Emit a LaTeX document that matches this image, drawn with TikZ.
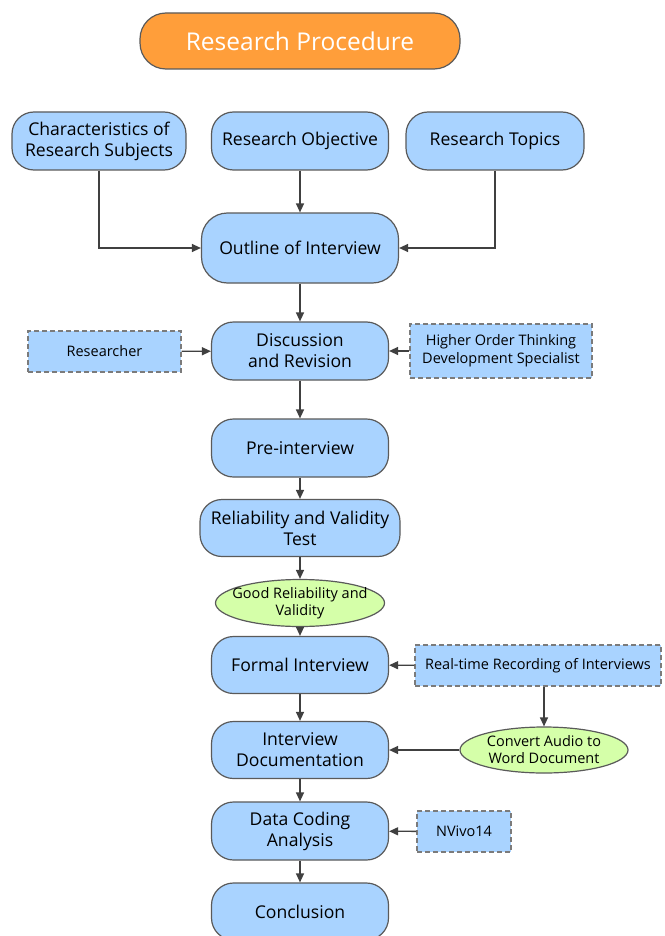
\documentclass[tikz,border=0pt]{standalone}
\usepackage{fontspec}
\setmainfont{Open Sans}
\usetikzlibrary{arrows.meta,shapes.geometric}
\definecolor{boxblue}{HTML}{A9D3FF}
\definecolor{boxgreen}{HTML}{D5FFA9}
\definecolor{boxorange}{HTML}{FF9E3A}
\definecolor{edgegray}{HTML}{5A5A5A}
\definecolor{linegray}{HTML}{404040}
\newcommand{\zw}[1]{\makebox[0pt][c]{#1}}
\tikzset{
  procbox/.style={draw=edgegray, line width=1.2pt, fill=boxblue, rounded corners=22pt,
    align=center, inner sep=0pt, font=\fontsize{17.6}{21}\selectfont, text=black},
  sidebox/.style={draw=edgegray!80, line width=1.4pt, dashed, dash pattern=on 5pt off 3pt, fill=boxblue,
    align=center, inner sep=0pt, font=\fontsize{14.5}{18}\selectfont},
  ovalbox/.style={ellipse, draw=edgegray, line width=1.2pt, fill=boxgreen,
    align=center, inner sep=0pt, font=\fontsize{14.5}{17}\selectfont},
  conn/.style={draw=linegray, line width=1.3pt, -{Triangle[length=9pt,width=8pt]}},
}
\begin{document}
\begin{tikzpicture}[x=1pt,y=-1pt]
\useasboundingbox[fill=white] (0,0) rectangle (664,936);
\node[draw=edgegray, line width=1.2pt, fill=boxorange, rounded corners=26pt, minimum width=320pt, minimum height=56pt,
  text=white, font=\fontsize{24.5}{28}\selectfont] (title) at (300,41) {Research Procedure};

\node[procbox, minimum width=174pt, minimum height=58pt] (chars) at (99,141) {Characteristics of\\Research Subjects};
\node[procbox, minimum width=177pt, minimum height=58pt] (obj) at (300,141) {Research Objective};
\node[procbox, minimum width=178pt, minimum height=58pt] (topics) at (495,141) {Research Topics};
\node[procbox, minimum width=197pt, minimum height=70pt, rounded corners=26pt] (outline) at (300,248) {Outline of Interview};
\node[procbox, minimum width=177pt, minimum height=58pt] (disc) at (300,351) {Discussion\\and Revision};
\node[sidebox, minimum width=153pt, minimum height=41pt] (res) at (104.5,351.5) {Researcher};
\node[sidebox, minimum width=182pt, minimum height=54pt] (hot) at (501,351) {Higher Order Thinking\\Development Specialist};
\node[procbox, minimum width=177pt, minimum height=58pt] (pre) at (300,448) {Pre-interview};
\node[procbox, minimum width=200pt, minimum height=57pt] (rel) at (300,528) {Reliability and Validity\\Test};
\node[ovalbox, minimum width=169pt, minimum height=47pt] (good) at (300,603) {\zw{Good Reliability and}\\\zw{Validity}};
\node[procbox, minimum width=177pt, minimum height=57pt] (formal) at (300,665) {Formal Interview};
\node[sidebox, minimum width=246pt, minimum height=41pt] (rec) at (538,665.5) {Real-time Recording of Interviews};
\node[procbox, minimum width=177pt, minimum height=57pt] (doc) at (300,750) {Interview\\Documentation};
\node[ovalbox, minimum width=168pt, minimum height=46pt] (conv) at (544,750) {\zw{Convert Audio to}\\\zw{Word Document}};
\node[procbox, minimum width=177pt, minimum height=58pt] (code) at (300,831) {Data Coding\\Analysis};
\node[sidebox, minimum width=94pt, minimum height=41pt] (nvivo) at (464,831.5) {NVivo14};
\node[procbox, minimum width=177pt, minimum height=57pt] (concl) at (300,911.5) {Conclusion};

\draw[conn] (chars.south) |- (outline.west);
\draw[conn] (obj) -- (outline);
\draw[conn] (topics.south) |- (outline.east);
\draw[conn] (outline) -- (disc);
\draw[conn] (res) -- (disc);
\draw[conn] (hot) -- (disc);
\draw[conn] (disc) -- (pre);
\draw[conn] (pre) -- (rel);
\draw[conn] (rel) -- (good);
\draw[conn] (good) -- (formal);
\draw[conn] (rec) -- (formal);
\draw[conn] (formal) -- (doc);
\draw[conn] (rec.south -| conv.north) -- (conv.north);
\draw[conn] (conv) -- (doc);
\draw[conn] (doc) -- (code);
\draw[conn] (nvivo) -- (code);
\draw[conn] (code) -- (concl);
\end{tikzpicture}
\end{document}
